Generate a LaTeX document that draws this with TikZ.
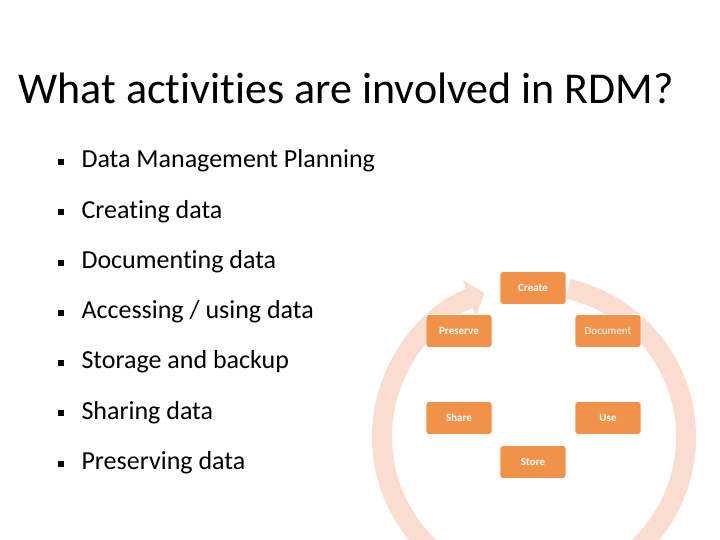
\documentclass[tikz,border=0pt]{standalone}
\usepackage{fontspec}
\setmainfont[RawFeature={-liga;-dlig;-calt}]{Carlito}
\usetikzlibrary{arrows.meta}
\definecolor{ring}{RGB}{250,221,208}
\definecolor{boxc}{RGB}{241,146,75}
\tikzset{stage/.style={fill=boxc,draw=white,line width=0.8pt,rounded corners=3pt,minimum width=66pt,minimum height=33pt,text=white,font=\fontsize{11}{13}\selectfont\bfseries},
bul/.style={fill=black,minimum size=6pt,inner sep=0pt},
btxt/.style={anchor=west,font=\fontsize{26}{30}\selectfont}}
\begin{document}
\begin{tikzpicture}[x=1pt,y=1pt]
\useasboundingbox (0,0) rectangle (720,540);
\clip (0,0) rectangle (720,540);
\node[anchor=west,font=\fontsize{44}{50}\selectfont] (title) at (15,452) {What activities are involved in RDM?};
\foreach \t [count=\i] in {Data Management Planning,Creating data,Documenting data,Accessing / using data,Storage and backup,Sharing data,Preserving data}{
  \node[bul] (b\i) at (61,540-162-50.3*\i+50.3) {};
  \node[btxt] (t\i) at (78,540-161-50.3*\i+50.3) {\t};
}
\draw[ring,line width=20pt,-{Triangle[width=38pt,length=16pt]}] (534,103)+(77:152) arc[start angle=77,end angle=-251,radius=152];
\node[stage] (create) at (533,252) {Create};
\node[stage] (preserve) at (459,209) {Preserve};
\node[stage,font=\fontsize{11}{13}\selectfont] (document) at (608,209) {Document};
\node[stage] (share) at (459,122) {Share};
\node[stage] (use) at (608,122) {Use};
\node[stage] (store) at (533,78) {Store};
\end{tikzpicture}
\end{document}
